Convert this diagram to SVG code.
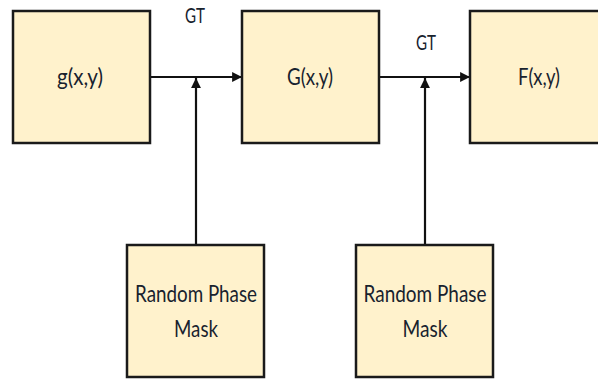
<svg xmlns="http://www.w3.org/2000/svg" width="598" height="380" viewBox="0 0 598 380">
<defs>
<style>
.box{fill:#FFF2CC;stroke:#1a1a1a;stroke-width:2.5}
.t{font-family:Lato,"Open Sans",sans-serif;font-size:23px;fill:#18222e;text-anchor:middle}
.lbl{font-family:Lato,"Open Sans",sans-serif;font-size:22px;fill:#18222e;text-anchor:middle}
.c{stroke:#111;stroke-width:2.2;fill:none}
</style>
<marker id="ah" viewBox="0 0 10 10" refX="10" refY="5" markerWidth="4.5" markerHeight="4.5" markerUnits="strokeWidth" orient="auto">
<path d="M0,0 L10,5 L0,10 Z" fill="#111"/>
</marker>
</defs>
<rect width="598" height="380" fill="#fff"/>
<g id="connectors">
<line class="c" x1="150" y1="77" x2="242" y2="77" marker-end="url(#ah)"/>
<line class="c" x1="379" y1="77" x2="470" y2="77" marker-end="url(#ah)"/>
<line class="c" x1="196" y1="245" x2="196" y2="78" marker-end="url(#ah)"/>
<line class="c" x1="425" y1="245" x2="425" y2="78" marker-end="url(#ah)"/>
<text class="lbl" x="195" y="23" textLength="20" lengthAdjust="spacingAndGlyphs">GT</text>
<text class="lbl" x="426" y="50" textLength="20" lengthAdjust="spacingAndGlyphs">GT</text>
</g>
<g id="g">
<rect class="box" x="13" y="11" width="137" height="132"/>
<text class="t" x="80" y="85" textLength="46" lengthAdjust="spacingAndGlyphs">g(x,y)</text>
</g>
<g id="G">
<rect class="box" x="242" y="11" width="137" height="132"/>
<text class="t" x="310" y="85" textLength="46" lengthAdjust="spacingAndGlyphs">G(x,y)</text>
</g>
<g id="F">
<rect class="box" x="470" y="11" width="137" height="132"/>
<text class="t" x="539" y="85" textLength="42" lengthAdjust="spacingAndGlyphs">F(x,y)</text>
</g>
<g id="mask1">
<rect class="box" x="127" y="245" width="137" height="132"/>
<text class="t" x="196" y="302" textLength="122" lengthAdjust="spacingAndGlyphs">Random Phase</text>
<text class="t" x="196" y="337" textLength="44" lengthAdjust="spacingAndGlyphs">Mask</text>
</g>
<g id="mask2">
<rect class="box" x="356" y="245" width="137" height="132"/>
<text class="t" x="425" y="302" textLength="123" lengthAdjust="spacingAndGlyphs">Random Phase</text>
<text class="t" x="425" y="337" textLength="45" lengthAdjust="spacingAndGlyphs">Mask</text>
</g>
</svg>
